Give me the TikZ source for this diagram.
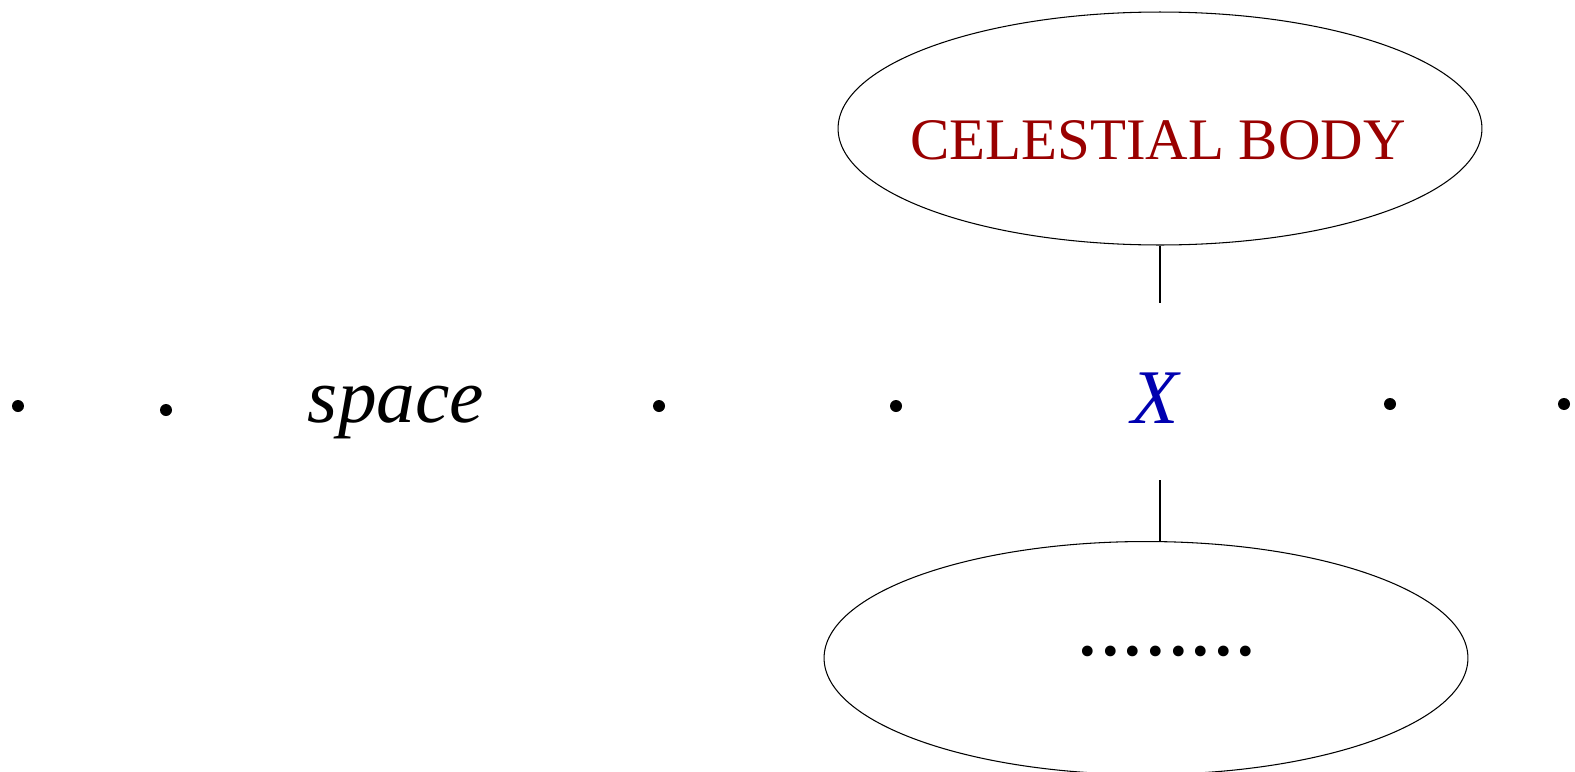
\documentclass[tikz,border=0pt]{standalone}
\usepackage{fontspec}
\setmainfont{Liberation Serif}
\usetikzlibrary{shapes.geometric,positioning}
\definecolor{Body}{HTML}{990000}
\definecolor{Var}{HTML}{0000B0}
\tikzset{
  pt/.style={circle,fill=black,inner sep=0pt,minimum size=2.4mm},
  blob/.style={ellipse,draw=black,line width=.6pt,inner sep=0pt,minimum width=12.88cm,minimum height=4.66cm},
  conn/.style={draw=black,line width=.6pt},
  big/.style={font=\fontsize{44}{50}\selectfont\itshape,inner sep=0pt,anchor=base},
  title/.style={text=Body,font=\fontsize{33.5}{40}\selectfont,inner sep=0pt,anchor=base}
}

\begin{document}
\begin{tikzpicture}[x=.02cm,y=-.02cm]
  \useasboundingbox (0,0) rectangle (1575,771);

  % the row
  \node[pt] (d1) at (18,406) {};
  \node[pt] (d2) at (166,410) {};
  \node[big] (sp) at (396,422) {space};
  \node[pt] (d3) at (659,406) {};
  \node[pt] (d4) at (896,406) {};
  \node[big,text=Var] (x) at (1155,423) {X};
  \node[pt] (d5) at (1390,404) {};
  \node[pt] (d6) at (1564,404) {};

  % above and below X
  \node[blob] (body) at (1160,128.5) {};
  \node[title] (bodytext) at (1158,159) {CELESTIAL BODY};
  \node[blob] (rest) at (1146,658) {};
  \node[font=\fontsize{51.4}{60}\selectfont,inner sep=0pt,anchor=base] (more) at (1167,655) {........};
  \coordinate (xtop) at (1160,303);
  \coordinate (xbot) at (1160,480);

  \draw[conn] (body.south) -- (xtop);
  \draw[conn] (xbot) -- (xbot |- rest.north);
\end{tikzpicture}
\end{document}
